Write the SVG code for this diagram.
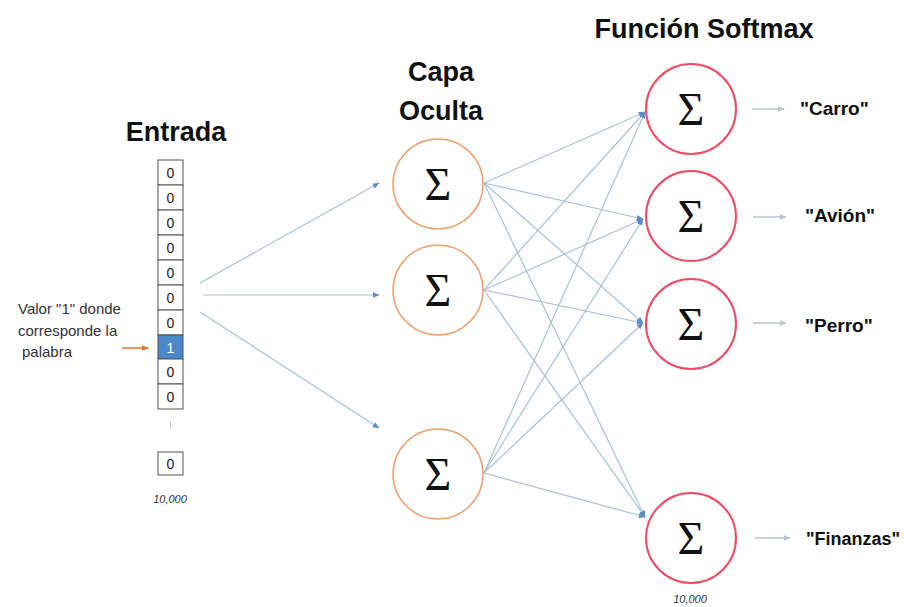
<svg xmlns="http://www.w3.org/2000/svg" width="904" height="607" viewBox="0 0 904 607">
<style>
.title{font-family:"Liberation Sans",Arial,sans-serif;font-weight:bold;font-size:27px;fill:#111;text-anchor:middle}
.out{font-family:"Liberation Sans",Arial,sans-serif;font-weight:bold;font-size:19px;fill:#111}
.sig{font-family:"Liberation Serif","DejaVu Serif",serif;font-size:46px;fill:#111;text-anchor:middle}
.cell{fill:#fff;stroke:#555;stroke-width:1}
.num{font-family:"Liberation Sans",Arial,sans-serif;font-size:14px;fill:#222;text-anchor:middle}
.note{font-family:"Liberation Sans",Arial,sans-serif;font-size:15px;fill:#333}
.cap{font-family:"Liberation Sans",Arial,sans-serif;font-style:italic;font-size:11px;fill:#333;text-anchor:middle}
.hid{fill:#fff;stroke:#f0a070;stroke-width:1.5}
.smx{fill:#fff;stroke:#f04a64;stroke-width:2}
.ln{stroke:#a9c2dc;stroke-width:1.2;fill:none;marker-end:url(#ah)}
.oa{stroke:#b8c4d4;stroke-width:1.5;fill:none;marker-end:url(#ag)}
</style>
<defs>
<marker id="ah" viewBox="0 0 10 10" refX="9" refY="5" markerWidth="7" markerHeight="7" orient="auto" markerUnits="userSpaceOnUse"><path d="M0,1 L10,5 L0,9 z" fill="#5b8fc8"/></marker>
<marker id="ag" viewBox="0 0 10 10" refX="9" refY="5" markerWidth="7" markerHeight="7" orient="auto" markerUnits="userSpaceOnUse"><path d="M0,1 L10,5 L0,9 z" fill="#b8c4d4"/></marker>
<marker id="ao" viewBox="0 0 10 10" refX="9" refY="5" markerWidth="7" markerHeight="7" orient="auto" markerUnits="userSpaceOnUse"><path d="M0,1 L10,5 L0,9 z" fill="#f07020"/></marker>
</defs>
<rect width="904" height="607" fill="#fff"/>

<text class="title" x="176" y="141">Entrada</text>
<text class="title" x="441" y="81">Capa</text>
<text class="title" x="441" y="120">Oculta</text>
<text class="title" x="704" y="38">Función Softmax</text>

<g id="input">
<rect class="cell" x="158" y="160" width="25" height="25"/><text class="num" x="170.5" y="178">0</text>
<rect class="cell" x="158" y="185" width="25" height="25"/><text class="num" x="170.5" y="203">0</text>
<rect class="cell" x="158" y="210" width="25" height="25"/><text class="num" x="170.5" y="228">0</text>
<rect class="cell" x="158" y="235" width="25" height="25"/><text class="num" x="170.5" y="253">0</text>
<rect class="cell" x="158" y="260" width="25" height="25"/><text class="num" x="170.5" y="278">0</text>
<rect class="cell" x="158" y="285" width="25" height="25"/><text class="num" x="170.5" y="303">0</text>
<rect class="cell" x="158" y="310" width="25" height="25"/><text class="num" x="170.5" y="328">0</text>
<rect x="158" y="335" width="25" height="24" fill="#4a88cc" stroke="#555"/><text class="num" x="170.5" y="352.5" style="fill:#fff">1</text>
<rect class="cell" x="158" y="359" width="25" height="25"/><text class="num" x="170.5" y="377">0</text>
<rect class="cell" x="158" y="384" width="25" height="25"/><text class="num" x="170.5" y="402">0</text>
<line x1="170.5" y1="421" x2="170.5" y2="428" stroke="#ccc" stroke-width="1"/>
<rect class="cell" x="158" y="452" width="25" height="23"/><text class="num" x="170.5" y="469">0</text>
<text class="cap" x="170" y="503">10,000</text>
</g>

<g id="note">
<text class="note" x="18" y="314">Valor "1" donde</text>
<text class="note" x="18" y="336">corresponde la</text>
<text class="note" x="22" y="357">palabra</text>
<line x1="122" y1="348" x2="148" y2="348" stroke="#f07020" stroke-width="1.5" marker-end="url(#ao)"/>
</g>

<g id="connectors">
<line class="ln" x1="200" y1="283" x2="379" y2="183"/>
<line class="ln" x1="203" y1="295" x2="379" y2="295"/>
<line class="ln" x1="200" y1="312" x2="379" y2="428"/>

<line class="ln" x1="484" y1="183" x2="645" y2="112"/>
<line class="ln" x1="484" y1="183" x2="643" y2="219"/>
<line class="ln" x1="484" y1="183" x2="643" y2="323"/>
<line class="ln" x1="484" y1="183" x2="645" y2="517"/>
<line class="ln" x1="484" y1="290" x2="645" y2="112"/>
<line class="ln" x1="484" y1="290" x2="643" y2="219"/>
<line class="ln" x1="484" y1="290" x2="643" y2="323"/>
<line class="ln" x1="484" y1="290" x2="645" y2="517"/>
<line class="ln" x1="484" y1="473" x2="645" y2="112"/>
<line class="ln" x1="484" y1="473" x2="643" y2="219"/>
<line class="ln" x1="484" y1="473" x2="643" y2="323"/>
<line class="ln" x1="484" y1="473" x2="645" y2="517"/>

<line class="oa" x1="752" y1="109" x2="784" y2="109"/>
<line class="oa" x1="753" y1="217" x2="786" y2="217"/>
<line class="oa" x1="753" y1="323" x2="786" y2="323"/>
<line class="oa" x1="755" y1="538" x2="790" y2="538"/>
</g>

<g id="h1"><circle class="hid" cx="438" cy="184" r="45"/><text class="sig" x="438" y="200">Σ</text></g>
<g id="h2"><circle class="hid" cx="438" cy="290" r="45"/><text class="sig" x="438" y="306">Σ</text></g>
<g id="h3"><circle class="hid" cx="438" cy="474" r="45"/><text class="sig" x="438" y="490">Σ</text></g>

<g id="s1"><circle class="smx" cx="691" cy="109" r="45"/><text class="sig" x="691" y="125">Σ</text></g>
<g id="s2"><circle class="smx" cx="691" cy="216" r="45"/><text class="sig" x="691" y="232">Σ</text></g>
<g id="s3"><circle class="smx" cx="691" cy="324" r="45"/><text class="sig" x="691" y="340">Σ</text></g>
<g id="s4"><circle class="smx" cx="691" cy="538" r="45"/><text class="sig" x="691" y="554">Σ</text></g>

<g id="outputs">
<text class="out" x="800" y="115">"Carro"</text>
<text class="out" x="805" y="222">"Avión"</text>
<text class="out" x="805" y="332">"Perro"</text>
<text class="out" x="806" y="545" style="font-size:18px">"Finanzas"</text>
<text class="cap" x="690" y="603">10,000</text>
</g>
</svg>
